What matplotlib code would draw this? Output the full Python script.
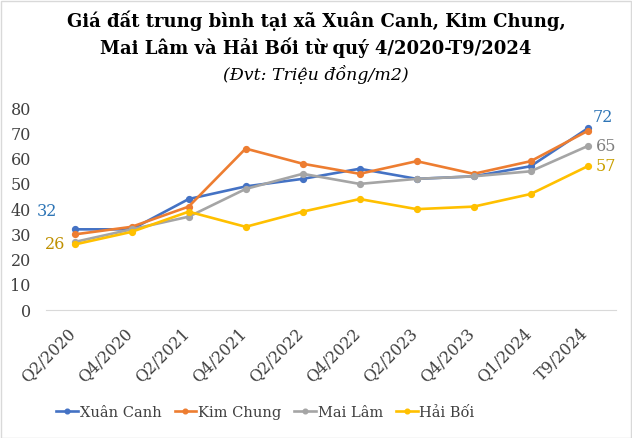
import matplotlib
matplotlib.use("Agg")
import matplotlib.pyplot as plt
from matplotlib.patches import Rectangle
from matplotlib.transforms import ScaledTranslation

# Giá đất trung bình (triệu đồng/m2)
periods = ["Q2/2020", "Q4/2020", "Q2/2021", "Q4/2021", "Q2/2022",
           "Q4/2022", "Q2/2023", "Q4/2023", "Q1/2024", "T9/2024"]
xuan_canh = [32, 32, 44, 49, 52, 56, 52, 53, 57, 72]
kim_chung = [30, 33, 41, 64, 58, 54, 59, 54, 59, 71]
mai_lam = [27, 32, 37, 48, 54, 50, 52, 53, 55, 65]
hai_boi = [26, 31, 39, 33, 39, 44, 40, 41, 46, 57]

series = [
    ("Xuân Canh", xuan_canh, "#4472C4"),
    ("Kim Chung", kim_chung, "#ED7D31"),
    ("Mai Lâm", mai_lam, "#A5A5A5"),
    ("Hải Bối", hai_boi, "#FFC000"),
]

plt.rcParams["font.family"] = ["DejaVu Serif"]
txt = "#404040"

fig = plt.figure(figsize=(6.32, 4.38), dpi=100)
ax = fig.add_axes([0.073, 0.292, 0.902, 0.461])

x = list(range(len(periods)))
for name, vals, col in series:
    ax.plot(x, vals, color=col, lw=1.9, marker="o", ms=4.2, label=name)

# data labels at the ends
ax.annotate(str(xuan_canh[0]), (0, xuan_canh[0]), xytext=(-20, 13), textcoords="offset points",
            ha="center", va="center", color="#2E75B6", fontsize=11.5)
ax.annotate(str(hai_boi[0]), (0, hai_boi[0]), xytext=(-14, 0), textcoords="offset points",
            ha="center", va="center", color="#BF9000", fontsize=11.5)
ax.annotate(str(xuan_canh[-1]), (9, xuan_canh[-1]), xytext=(11, 8), textcoords="offset points",
            ha="center", va="center", color="#2E75B6", fontsize=11.5)
ax.annotate(str(mai_lam[-1]), (9, mai_lam[-1]), xytext=(13, 0), textcoords="offset points",
            ha="center", va="center", color="#7F7F7F", fontsize=11.5)
ax.annotate(str(hai_boi[-1]), (9, hai_boi[-1]), xytext=(13, 0), textcoords="offset points",
            ha="center", va="center", color="#C9A000", fontsize=11.5)

ax.set_xlim(-0.5, 9.5)
ax.set_ylim(0, 80)
ax.set_yticks(range(0, 81, 10))
ax.set_xticks(x)
ax.set_xticklabels(periods, rotation=45, ha="right", rotation_mode="anchor")
ax.tick_params(axis="both", length=0, labelsize=11.5, colors=txt)
ax.tick_params(axis="y", pad=11)
ax.tick_params(axis="x", pad=11)
shift = ScaledTranslation(-8 / 100, 0, fig.dpi_scale_trans)
for lab in ax.get_xticklabels():
    lab.set_transform(lab.get_transform() + shift)
for s in ["top", "right", "left"]:
    ax.spines[s].set_visible(False)
ax.spines["bottom"].set_color("#D9D9D9")

fig.text(0.5, 0.952, "Giá đất trung bình tại xã Xuân Canh, Kim Chung,", ha="center", va="center",
         fontsize=13, fontweight="bold", color="black")
fig.text(0.5, 0.890, "Mai Lâm và Hải Bối từ quý 4/2020-T9/2024", ha="center", va="center",
         fontsize=13, fontweight="bold", color="black")
fig.text(0.5, 0.830, "(Đvt: Triệu đồng/m2)", ha="center", va="center",
         fontsize=12.5, style="italic", color="black")

fig.legend(loc="center", bbox_to_anchor=(0.42, 0.058), ncol=4, frameon=False,
           fontsize=10.5, handlelength=1.5, handletextpad=0.1, columnspacing=0.9,
           markerscale=0.8, labelcolor=txt)

fig.patches.append(Rectangle((0.001, 0.001), 0.997, 0.997, transform=fig.transFigure,
                             fill=False, edgecolor="#D9D9D9", lw=1))

fig.savefig("out.png", dpi=100)
